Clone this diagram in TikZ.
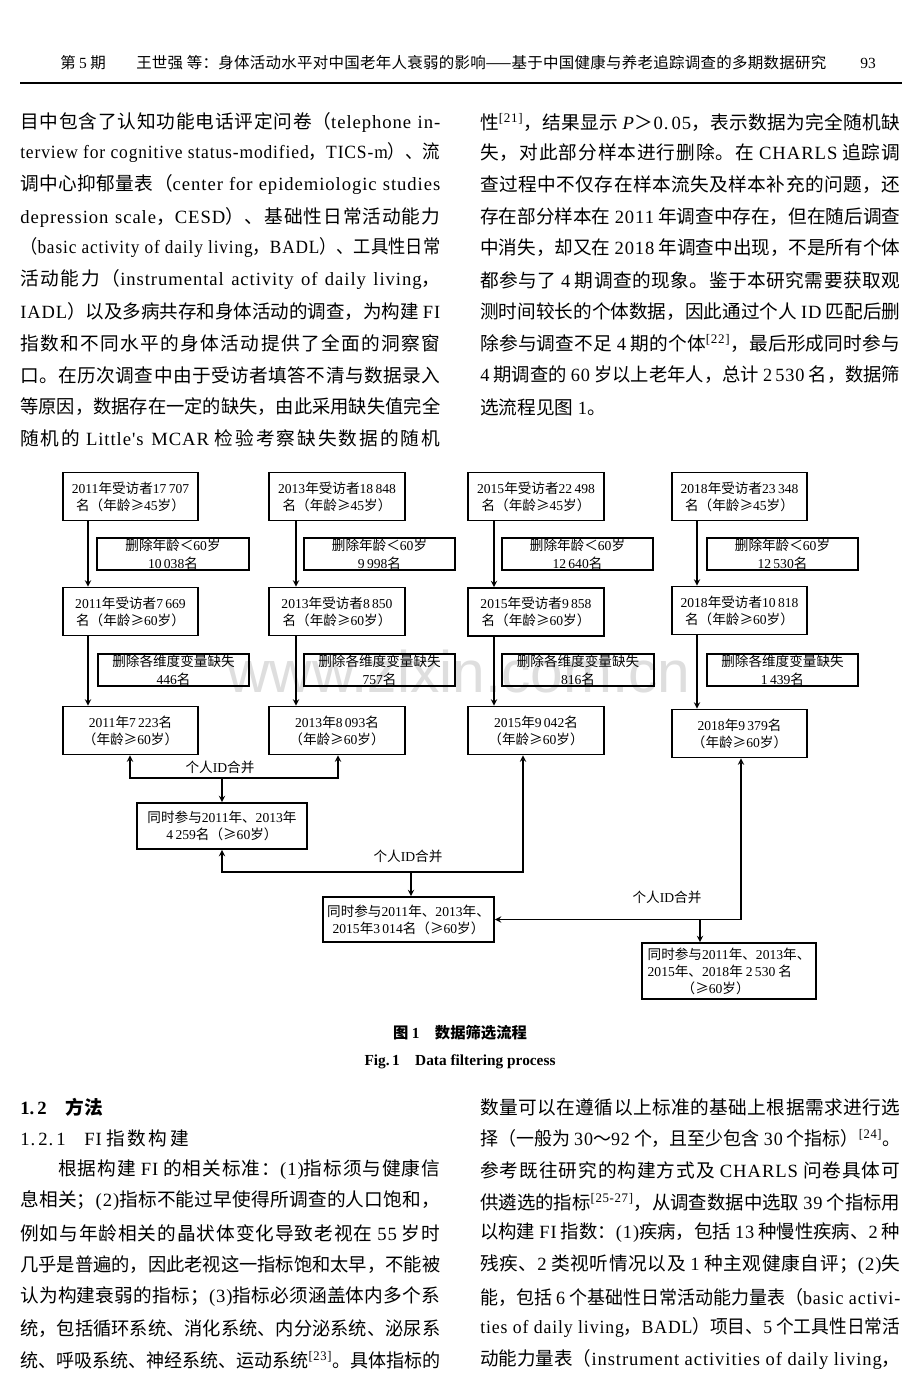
\documentclass[tikz,border=0pt]{standalone}
\usepackage{fontspec}
\usepackage{graphicx}
\setmainfont{Noto Sans CJK SC}
\newfontfamily\lat{Liberation Serif}
\newfontfamily\latw{Liberation Serif}[LetterSpace=5]
\newfontfamily\wmfont{Liberation Sans}
\newXeTeXintercharclass\cjkcls
\newcount\cjkc
\cjkc="4E00 \loop\XeTeXcharclass\cjkc=\cjkcls\relax\ifnum\cjkc<"9FFF \advance\cjkc by 1 \repeat
\cjkc="3000 \loop\XeTeXcharclass\cjkc=\cjkcls\relax\ifnum\cjkc<"303F \advance\cjkc by 1 \repeat
\cjkc="FF00 \loop\XeTeXcharclass\cjkc=\cjkcls\relax\ifnum\cjkc<"FF60 \advance\cjkc by 1 \repeat
\XeTeXinterchartoks\cjkcls\cjkcls={\hskip0pt plus 2pt\relax}
\XeTeXinterchartokenstate=1
\let\latsel\lat
\newcommand\en[1]{{\latsel #1}}
\newlength\colw \setlength\colw{315pt}
\newsavebox\linebox
\newcommand\jline[2][\colw]{\sbox\linebox{#2}%
  \ifdim\wd\linebox>#1\relax\resizebox{#1}{\height}{\usebox\linebox}%
  \else\hbox to #1{#2}\fi}
\begin{document}
\begin{tikzpicture}[x=0.75pt,y=-0.75pt,>=stealth,
    txt/.style={anchor=west,inner sep=0pt,font=\fontsize{14}{14}\selectfont\let\latsel\latw},
    fbox/.style={draw,line width=1.4pt,inner sep=0pt,align=center,font=\fontsize{10.2}{12.75}\selectfont},
    yr/.style={fbox,minimum width=101.5pt,minimum height=36pt},
    del/.style={fbox,minimum width=113.5pt,minimum height=24pt,font=\fontsize{10.2}{13.2}\selectfont},
    link/.style={->,line width=1.1pt},
    merge/.style={inner sep=0pt,font=\fontsize{10.2}{12}\selectfont}]
\fill[white] (0,0) rectangle (920,1389);
\useasboundingbox (0,0) rectangle (920,1389);
% page head
\node[anchor=west,inner sep=0pt,font=\fontsize{11.6}{12}\selectfont] (hd1) at (60,63) {第 \en{5} 期};
\node[anchor=west,inner sep=0pt,font=\fontsize{11.6}{12}\selectfont] (hd2) at (136,63) {\jline[517.5pt]{王世强 等：身体活动水平对中国老年人衰弱的影响——基于中国健康与养老追踪调查的多期数据研究}};
\node[inner sep=0pt,font=\fontsize{11.6}{12}\selectfont] (pg) at (868,63) {\en{93}};
\draw[line width=0.8pt] (20,83) -- (902,83);
% text above the figure
\node[txt] (l1) at (20,122) {\jline{目中包含了认知功能电话评定问卷（\en{telephone in-}}};
\node[txt] (l2) at (20,153) {\jline{\en{terview for cognitive status-modified}，\en{TICS-m}）、流}};
\node[txt] (l3) at (20,185) {\jline{调中心抑郁量表（\en{center for epidemiologic studies}}};
\node[txt] (l4) at (20,217) {\jline{\en{depression scale}，\en{CESD}）、基础性日常活动能力}};
\node[txt] (l5) at (20,248) {\jline{（\en{basic activity of daily living}，\en{BADL}）、工具性日常}};
\node[txt] (l6) at (20,280) {\jline{活动能力（\en{instrumental activity of daily living}，}};
\node[txt] (l7) at (20,312) {\jline{\en{IADL}）以及多病共存和身体活动的调查，为构建 \en{FI}}};
\node[txt] (l8) at (20,343) {\jline{指数和不同水平的身体活动提供了全面的洞察窗}};
\node[txt] (l9) at (20,375) {\jline{口。在历次调查中由于受访者填答不清与数据录入}};
\node[txt] (l10) at (20,407) {\jline{等原因，数据存在一定的缺失，由此采用缺失值完全}};
\node[txt] (l11) at (20,438) {\jline{随机的 \en{Little's MCAR} 检验考察缺失数据的随机}};
\node[txt] (r1) at (480,122) {\jline{性\textsuperscript{\en{[21]}}，结果显示 \en{\textit{P}}＞\en{0.\,05}，表示数据为完全随机缺}};
\node[txt] (r2) at (480,153) {\jline{失，对此部分样本进行删除。在 \en{CHARLS} 追踪调}};
\node[txt] (r3) at (480,185) {\jline{查过程中不仅存在样本流失及样本补充的问题，还}};
\node[txt] (r4) at (480,217) {\jline{存在部分样本在 \en{2011} 年调查中存在，但在随后调查}};
\node[txt] (r5) at (480,248) {\jline{中消失，却又在 \en{2018} 年调查中出现，不是所有个体}};
\node[txt] (r6) at (480,280) {\jline{都参与了 \en{4} 期调查的现象。鉴于本研究需要获取观}};
\node[txt] (r7) at (480,312) {\jline{测时间较长的个体数据，因此通过个人 \en{ID} 匹配后删}};
\node[txt] (r8) at (480,343) {\jline{除参与调查不足 \en{4} 期的个体\textsuperscript{\en{[22]}}，最后形成同时参与}};
\node[txt] (r9) at (480,375) {\jline{\en{4} 期调查的 \en{60} 岁以上老年人，总计 \en{2\,530} 名，数据筛}};
\node[txt] (r10) at (480,407) {选流程见图 \en{1}。};
% watermark
\node[inner sep=0pt,text=black!13,font=\wmfont\fontsize{44}{44}\selectfont] (wm) at (459,672) {www.zixin.com.cn};
% figure 1
\node[yr] (a1) at (130.5,496.5) {\en{2011}年受访者\en{17\,707}\\名（年龄≥\en{45}岁）};
\node[yr] (a2) at (337,496.5) {\en{2013}年受访者\en{18\,848}\\名（年龄≥\en{45}岁）};
\node[yr] (a3) at (536,496.5) {\en{2015}年受访者\en{22\,498}\\名（年龄≥\en{45}岁）};
\node[yr] (a4) at (739.5,496.5) {\en{2018}年受访者\en{23\,348}\\名（年龄≥\en{45}岁）};
\node[del] (d1) at (173,554) {删除年龄＜\en{60}岁\\\en{10\,038}名};
\node[del] (d2) at (379.5,554) {删除年龄＜\en{60}岁\\\en{9\,998}名};
\node[del] (d3) at (577.5,554) {删除年龄＜\en{60}岁\\\en{12\,640}名};
\node[del] (d4) at (782.5,554) {删除年龄＜\en{60}岁\\\en{12\,530}名};
\node[yr] (b1) at (130.5,611.5) {\en{2011}年受访者\en{7\,669}\\名（年龄≥\en{60}岁）};
\node[yr] (b2) at (337,611.5) {\en{2013}年受访者\en{8\,850}\\名（年龄≥\en{60}岁）};
\node[yr] (b3) at (536,612) {\en{2015}年受访者\en{9\,858}\\名（年龄≥\en{60}岁）};
\node[yr] (b4) at (739.5,610.5) {\en{2018}年受访者\en{10\,818}\\名（年龄≥\en{60}岁）};
\node[del] (d5) at (173.5,670) {删除各维度变量缺失\\\en{446}名};
\node[del] (d6) at (379.5,670) {删除各维度变量缺失\\\en{757}名};
\node[del] (d7) at (578,670) {删除各维度变量缺失\\\en{816}名};
\node[del] (d8) at (782.5,670) {删除各维度变量缺失\\\en{1\,439}名};
\node[yr] (c1) at (130.5,730.5) {\en{2011}年\en{7\,223}名\\（年龄≥\en{60}岁）};
\node[yr] (c2) at (337,730.5) {\en{2013}年\en{8\,093}名\\（年龄≥\en{60}岁）};
\node[yr] (c3) at (536,730.5) {\en{2015}年\en{9\,042}名\\（年龄≥\en{60}岁）};
\node[yr] (c4) at (739.5,733.5) {\en{2018}年\en{9\,379}名\\（年龄≥\en{60}岁）};
\node[fbox,minimum width=127.5pt,minimum height=34.5pt] (e1) at (222,826) {同时参与\en{2011}年、\en{2013}年\\\en{4\,259}名（≥\en{60}岁）};
\node[fbox,minimum width=128.25pt,minimum height=33.75pt] (e2) at (408.5,919.5) {同时参与\en{2011}年、\en{2013}年、\\\en{2015}年\en{3\,014}名（≥\en{60}岁）};
\node[fbox,align=left,minimum width=130.5pt,minimum height=42pt] (f1) at (729,971) {同时参与\en{2011}年、\en{2013}年、\\\en{2015}年、\en{2018}年 \en{2\,530} 名\\\hspace*{2.5em}（≥\en{60}岁）};
\foreach \c/\x in {1/88,2/296,3/494,4/697}{
  \draw[link] (a\c.south -| \x,0) -- (b\c.north -| \x,0);
  \draw[link] (b\c.south -| \x,0) -- (c\c.north -| \x,0);
}
\coordinate (m1) at (222,778);
\draw[link] (m1) -| (c1.south -| 130,0);
\draw[link] (m1) -| (c2.south -| 338,0);
\draw[link] (m1) -- (e1.north);
\node[merge] (lab1) at (220,767) {个人\en{ID}合并};
\coordinate (m2) at (411,872);
\draw[link] (m2) -| (e1.south);
\draw[link] (m2) -| (c3.south -| 523,0);
\draw[link] (m2) -- (e2.north -| m2);
\node[merge] (lab2) at (408,856) {个人\en{ID}合并};
\coordinate (m3) at (700,919.5);
\draw[link] (m3) -| (c4.south -| 741,0);
\draw[link] (m3) -- (e2.east);
\draw[link] (m3) -- (f1.north -| m3);
\node[merge] (lab3) at (667,897) {个人\en{ID}合并};
\node[inner sep=0pt,font=\fontsize{11.5}{12}\selectfont\bfseries] (cap) at (460,1033) {图 \en{1}\hspace{1em}数据筛选流程};
\node[inner sep=0pt,font=\fontsize{11.5}{12}\selectfont] (capen) at (460,1062) {\en{\bfseries Fig.\,1\hspace{1em}Data filtering process}};
% text below the figure
\node[txt,font=\fontsize{14}{14}\selectfont\bfseries] (s1) at (20,1107) {\en{1.\,2}\hspace{1em}方法};
\node[txt] (s2) at (20,1138) {\en{1.\,2.\,1}\hspace{1em}\en{FI} 指\hspace{2pt}数\hspace{2pt}构\hspace{2pt}建};
\node[txt] (l12) at (58,1170) {\jline[286.5pt]{根据构建 \en{FI} 的相关标准：\en{(1)}指标须与健康信}};
\node[txt] (l13) at (20,1201) {\jline{息相关；\en{(2)}指标不能过早使得所调查的人口饱和，}};
\node[txt] (l14) at (20,1233) {\jline{例如与年龄相关的晶状体变化导致老视在 \en{55} 岁时}};
\node[txt] (l15) at (20,1265) {\jline{几乎是普遍的，因此老视这一指标饱和太早，不能被}};
\node[txt] (l16) at (20,1297) {\jline{认为构建衰弱的指标；\en{(3)}指标必须涵盖体内多个系}};
\node[txt] (l17) at (20,1329) {\jline{统，包括循环系统、消化系统、内分泌系统、泌尿系}};
\node[txt] (l18) at (20,1360) {\jline{统、呼吸系统、神经系统、运动系统\textsuperscript{\en{[23]}}。具体指标的}};
\node[txt] (r11) at (480,1107) {\jline{数量可以在遵循以上标准的基础上根据需求进行选}};
\node[txt] (r12) at (480,1138) {\jline{择（一般为 \en{30}～\en{92} 个，且至少包含 \en{30} 个指标）\textsuperscript{\en{[24]}}。}};
\node[txt] (r13) at (480,1170) {\jline{参考既往研究的构建方式及 \en{CHARLS} 问卷具体可}};
\node[txt] (r14) at (480,1202) {\jline{供遴选的指标\textsuperscript{\en{[25-27]}}，从调查数据中选取 \en{39} 个指标用}};
\node[txt] (r15) at (480,1233) {\jline{以构建 \en{FI} 指数：\en{(1)}疾病，包括 \en{13} 种慢性疾病、\en{2} 种}};
\node[txt] (r16) at (480,1265) {\jline{残疾、\en{2} 类视听情况以及 \en{1} 种主观健康自评；\en{(2)}失}};
\node[txt] (r17) at (480,1297) {\jline{能，包括 \en{6} 个基础性日常活动能力量表（\en{basic activi-}}};
\node[txt] (r18) at (480,1328) {\jline{\en{ties of daily living}，\en{BADL}）项目、\en{5} 个工具性日常活}};
\node[txt] (r19) at (480,1360) {\jline{动能力量表（\en{instrument activities of daily living}，}};
\end{tikzpicture}
\end{document}
